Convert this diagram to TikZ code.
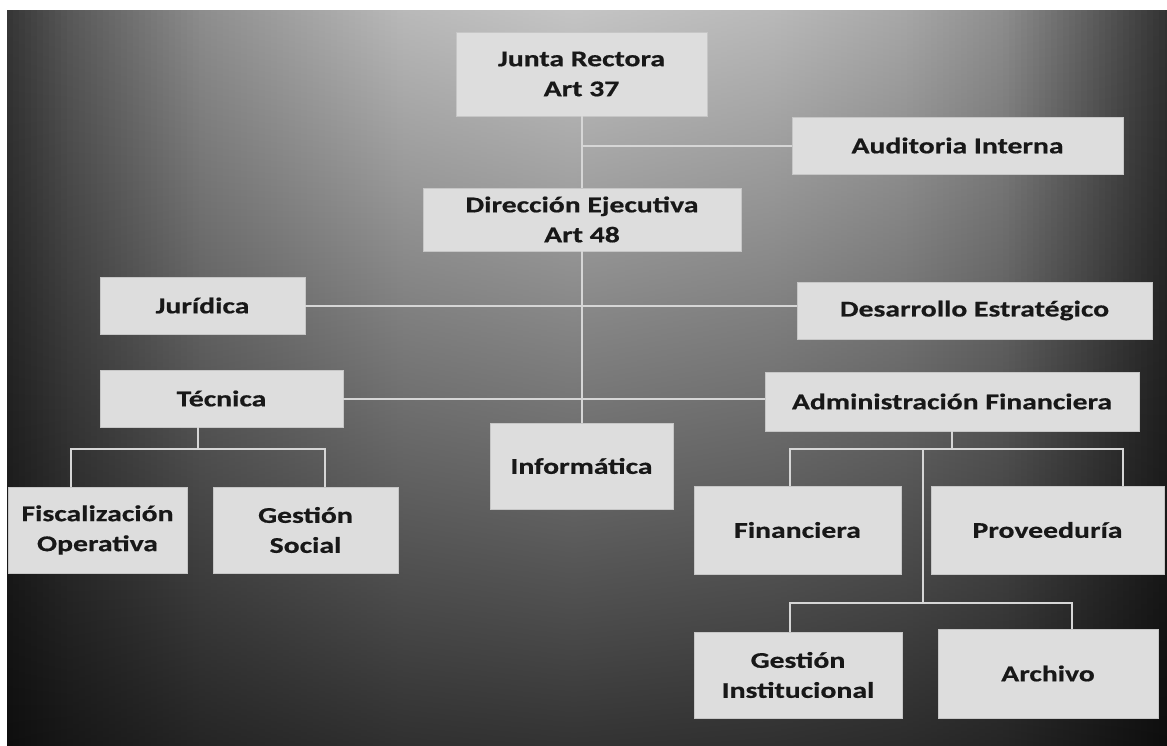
\documentclass[tikz,border=0pt]{standalone}
\usepackage{fontspec}
\newfontfamily\boxfont{Carlito}[FakeStretch=1.32, FakeBold=0.6]
\definecolor{boxfill}{HTML}{DDDDDD}
\definecolor{boxline}{HTML}{C6C6C6}
\definecolor{linec}{HTML}{D6D6D6}
\definecolor{txt}{HTML}{181818}
\tikzset{
  box/.style={draw=boxline, fill=boxfill, line width=0.8pt, inner sep=0pt, align=center,
    font=\boxfont\bfseries\fontsize{22.5}{30}\selectfont, text=txt},
  conn/.style={draw=linec, line width=2pt}
}
\begin{document}
\begin{tikzpicture}[x=1pt,y=-1pt]
\useasboundingbox (0,0) rectangle (1167,745);
\fill[white] (0,0) rectangle (1167,745);
% background vignette
\foreach \x in {7,13,...,1165} {
  \pgfmathsetmacro\h{\x<67 ? 0.28+(\x-7)/60*0.17 : (\x<200 ? 0.45+(\x-67)/133*0.27 : (\x<400 ? 0.72+(\x-200)/200*0.22 : (\x<570 ? 0.94+(\x-400)/170*0.06 : (\x<770 ? 1-(\x-570)/200*0.06 : (\x<900 ? 0.94-(\x-770)/130*0.09 : (\x<1000 ? 0.85-(\x-900)/100*0.13 : (\x<1080 ? 0.72-(\x-1000)/80*0.22 : 0.5-(\x-1080)/87*0.25)))))))}
  \pgfmathsetmacro\ca{\h*0.77}
  \pgfmathsetmacro\cb{\h*0.67}
  \pgfmathsetmacro\cc{\h*0.54}
  \pgfmathsetmacro\cd{\h*0.37}
  \pgfmathsetmacro\ce{\h*0.20}
  \definecolor{bgA}{gray}{\ca}
  \definecolor{bgB}{gray}{\cb}
  \definecolor{bgC}{gray}{\cc}
  \definecolor{bgD}{gray}{\cd}
  \definecolor{bgE}{gray}{\ce}
  \shade[top color=bgA, middle color=bgB, bottom color=bgC] (\x,10) rectangle ++(6.6,290.5);
  \shade[top color=bgC, middle color=bgD, bottom color=bgE] (\x,300) rectangle ++(6.6,445);
}
% boxes
\node[box, minimum width=251pt, minimum height=84pt] (junta) at (581.5,74) {Junta Rectora\\Art 37};
\node[box, minimum width=331pt, minimum height=57pt] (audit) at (957.5,145.5) {Auditoria Interna};
\node[box, minimum width=318pt, minimum height=63pt] (direc) at (582,219.5) {Dirección Ejecutiva\\Art 48};
\node[box, minimum width=205pt, minimum height=57pt] (juri) at (202.5,305.5) {Jurídica};
\node[box, minimum width=355pt, minimum height=57pt] (desa) at (974.5,310.5) {Desarrollo Estratégico};
\node[box, minimum width=243pt, minimum height=57pt] (tecn) at (221.5,398.5) {Técnica};
\node[box, minimum width=374pt, minimum height=59pt] (admin) at (952,401.5) {Administración Financiera};
\node[box, minimum width=183pt, minimum height=86pt] (info) at (581.5,466) {Informática};
\node[box, minimum width=179pt, minimum height=86pt] (fisc) at (97.5,530) {Fiscalización\\Operativa};
\node[box, minimum width=185pt, minimum height=86pt] (gsoc) at (305.5,530) {Gestión\\Social};
\node[box, minimum width=207pt, minimum height=88pt] (finan) at (797.5,530) {Financiera};
\node[box, minimum width=233pt, minimum height=88pt] (prov) at (1047.5,530) {Proveeduría};
\node[box, minimum width=208pt, minimum height=86pt] (ginst) at (798,675) {Gestión\\Institucional};
\node[box, minimum width=220pt, minimum height=89pt] (arch) at (1048,673.5) {Archivo};
% bus points
\coordinate (tbus) at (198,449);
\coordinate (tl) at (71,449);
\coordinate (tr) at (325,449);
\coordinate (abus) at (952,449);
\coordinate (al) at (790,449);
\coordinate (ar) at (1123,449);
\coordinate (amid) at (923,449);
\coordinate (bbus) at (923,603);
\coordinate (bl) at (790,603);
\coordinate (br) at (1072,603);
% connectors
\draw[conn] (junta.south) -- (junta.south |- direc.north);
\draw[conn] (audit.west) -- (audit.west -| junta.south);
\draw[conn] (direc.south) -- (direc.south |- info.north);
\draw[conn] (juri.east) -- (juri.east -| desa.west);
\draw[conn] (tecn.east) -- (tecn.east -| admin.west);
\draw[conn] (tecn.south -| tbus) -- (tbus);
\draw[conn] (fisc.north -| tl) -- (tl) -- (tr) -- (gsoc.north -| tr);
\draw[conn] (admin.south -| abus) -- (abus);
\draw[conn] (finan.north -| al) -- (al) -- (ar) -- (prov.north -| ar);
\draw[conn] (amid) -- (bbus);
\draw[conn] (ginst.north -| bl) -- (bl) -- (br) -- (arch.north -| br);
\end{tikzpicture}
\end{document}
